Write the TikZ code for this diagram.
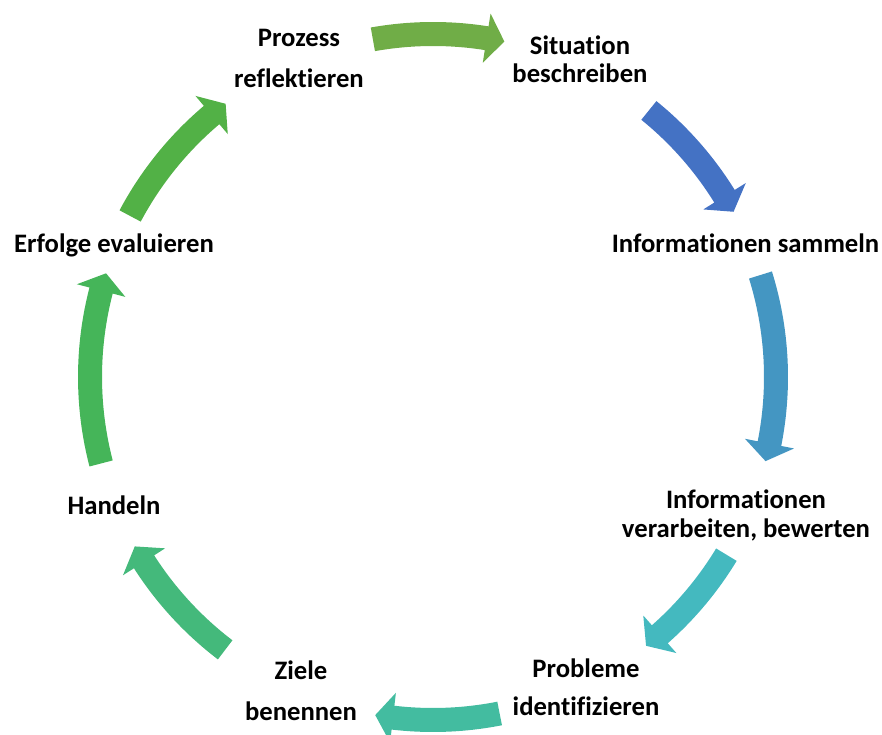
\documentclass[tikz,border=0pt]{standalone}
\usepackage{fontspec}
\setmainfont{Carlito}[Ligatures=NoCommon]

% radii of the ring of arrows (1 unit = 1pt)
\def\Rc{343}   % centre line
\def\Wb{12}    % half width of the arrow body
\def\Wh{25}    % half width of the arrow head
\def\Hang{3.0} % angular length of the head (degrees)

% curved block arrow running clockwise from angle #1 (tail) to angle #2 (tip)
\newcommand{\cycarrow}[3]{%
  \pgfmathsetmacro{\hb}{#2+\Hang}%
  \pgfmathsetmacro{\ro}{\Rc+\Wb}%
  \pgfmathsetmacro{\ri}{\Rc-\Wb}%
  \pgfmathsetmacro{\rho}{\Rc+\Wh}%
  \pgfmathsetmacro{\rhi}{\Rc-\Wh}%
  \fill[#3] (#1:\ro) arc[start angle=#1, end angle=\hb, radius=\ro]
    -- (\hb:\rho) -- (#2:\Rc) -- (\hb:\rhi) -- (\hb:\ri)
    arc[start angle=\hb, end angle=#1, radius=\ri] -- cycle;
}

\definecolor{cA}{HTML}{70AD47}
\definecolor{cB}{HTML}{4472C4}
\definecolor{cC}{HTML}{4496C2}
\definecolor{cD}{HTML}{44B9BF}
\definecolor{cE}{HTML}{43BCA0}
\definecolor{cF}{HTML}{44B97B}
\definecolor{cG}{HTML}{45B559}
\definecolor{cH}{HTML}{52B146}

\begin{document}
\begin{tikzpicture}[x=1pt,y=1pt,
  lbl/.style={font=\bfseries\fontsize{26.67}{#1}\selectfont, align=center,
    anchor=base, inner sep=0pt},
  lbl/.default=32]
\useasboundingbox (0,0) rectangle (882,734);

% step labels (anchored at the baseline of their last line)
\node[lbl=41] (reflect)   at (299,646)   {Prozess\\reflektieren};
\node[lbl=28] (situation) at (580,651)   {Situation\\beschreiben};
\node[lbl]    (collect)   at (745.5,481) {Informationen sammeln};
\node[lbl=29] (process)   at (746,197)   {Informationen\\verarbeiten, bewerten};
\node[lbl=38] (identify)  at (586,19)    {Probleme\\identifizieren};
\node[lbl=41] (goals)     at (301,14)    {Ziele\\benennen};
\node[lbl]    (act)       at (114,220)   {Handeln};
\node[lbl]    (evaluate)  at (114,481)   {Erfolge evaluieren};

% ring of arrows
\begin{scope}[shift={(433,357)}]
  \cycarrow{100.1}{78.0}{cA}
  \cycarrow{51.0}{28.8}{cB}
  \cycarrow{17.3}{-14.2}{cC}
  \cycarrow{-31.2}{-51.6}{cD}
  \cycarrow{-78.8}{-99.7}{cE}
  \cycarrow{-127.3}{-150.4}{cF}
  \cycarrow{-165.4}{-197.6}{cG}
  \cycarrow{152.0}{127.2}{cH}
\end{scope}
\end{tikzpicture}
\end{document}
